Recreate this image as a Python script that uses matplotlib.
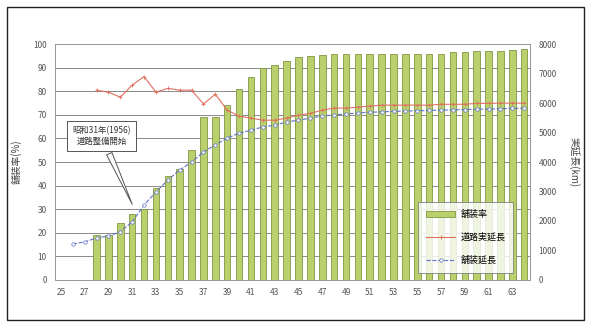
import numpy as np
import matplotlib
matplotlib.use("Agg")
import matplotlib.pyplot as plt
from matplotlib.patches import Rectangle

plt.rcParams['font.family'] = ['Noto Sans CJK JP', 'DejaVu Sans']

# data (years in Showa, 25..64)
years = list(range(25, 65))
paving_rate = [0, 0, 0, 19, 19, 24, 28, 30, 39, 44,
               47, 55, 69, 69, 74, 81, 86, 90, 91, 93,
               94.5, 95, 95.5, 96, 96, 96, 96, 96, 96, 96,
               96, 96, 96, 96.5, 96.5, 97, 97, 97, 97.5, 98]
total_length = [np.nan, np.nan, np.nan, 6440, 6370, 6200, 6610, 6900, 6370, 6500,
                6440, 6440, 5970, 6300, 5760, 5560, 5490, 5420, 5420, 5490,
                5590, 5650, 5760, 5830, 5830, 5860, 5900, 5930, 5930, 5930,
                5930, 5930, 5960, 5960, 5960, 5990, 5990, 6000, 6000, 6000]
paved_length = [np.nan, 1220, 1290, 1420, 1490, 1630, 1970, 2540, 2980, 3390,
                3730, 4000, 4340, 4580, 4810, 4980, 5080, 5190, 5250, 5360,
                5420, 5490, 5560, 5600, 5630, 5660, 5690, 5700, 5720, 5730,
                5740, 5750, 5760, 5770, 5780, 5790, 5800, 5810, 5820, 5830]
tick_labels = [str(y) for y in years[::2]]

fig = plt.figure(figsize=(5.91, 3.32), dpi=100)
ax = fig.add_axes([0.093, 0.157, 0.804, 0.71])
ax2 = ax.twinx()
ax.set_zorder(ax2.get_zorder() - 1)
ax.patch.set_visible(True)
ax2.patch.set_visible(False)

x = np.arange(len(years))
bars = ax.bar(x, paving_rate, width=0.55, color='#b9d06c', edgecolor='#7f9842',
              linewidth=0.6, label='舗装率', zorder=3)
ax.set_ylim(0, 100)
ax.set_yticks(range(0, 101, 10))
ax.set_xlim(-0.5, len(years) - 0.5)
ax.set_xticks(x[::2])
ax.set_xticklabels(tick_labels)
ax.grid(axis='y', color='#8a8a8a', linewidth=0.7, zorder=0)
ax.set_axisbelow(True)

l1, = ax2.plot(x, total_length, color='#e07060', linewidth=0.8, marker='+',
               markersize=3, markeredgewidth=0.6, label='道路実延長')
l2, = ax2.plot(x, paved_length, color='#6070c8', linewidth=0.8, linestyle='--',
               marker='o', markersize=2.5, markerfacecolor='white',
               markeredgewidth=0.5, label='舗装延長')
ax2.set_ylim(0, 8000)
ax2.set_yticks(range(0, 8001, 1000))

for a in (ax, ax2):
    a.tick_params(length=0, labelsize=6, colors='#555555', pad=6)
    for s in a.spines.values():
        s.set_color('#9a9a9a')
        s.set_linewidth(0.7)

ax.set_ylabel('舗装率(%)', fontsize=7, color='#444444', labelpad=8)
ax2.set_ylabel('実延長(km)', fontsize=7, color='#444444', rotation=270, labelpad=16)

leg = ax2.legend([bars, l1, l2], ['舗装率', '道路実延長', '舗装延長'],
                 loc='lower right', bbox_to_anchor=(0.965, 0.03), fontsize=6.5,
                 frameon=True, fancybox=False, edgecolor='#777777',
                 labelspacing=1.5, borderpad=0.9, handlelength=3.2,
                 handletextpad=0.6, borderaxespad=0)
leg.get_frame().set_linewidth(0.7)

ax.annotate('昭和31年(1956)\n道路整備開始', xy=(6.1, 31), xytext=(3.4, 61),
            fontsize=6, color='#333333', ha='center', va='center', zorder=10,
            bbox=dict(boxstyle='square,pad=0.6', fc='white', ec='#555555', lw=0.7),
            arrowprops=dict(arrowstyle='wedge,tail_width=0.7', fc='white',
                            ec='#555555', lw=0.7))

fig.add_artist(Rectangle((0.012, 0.035), 0.976, 0.945, transform=fig.transFigure,
                         fill=False, edgecolor='#222222', linewidth=1.0))

fig.savefig('out.png', dpi=100)
